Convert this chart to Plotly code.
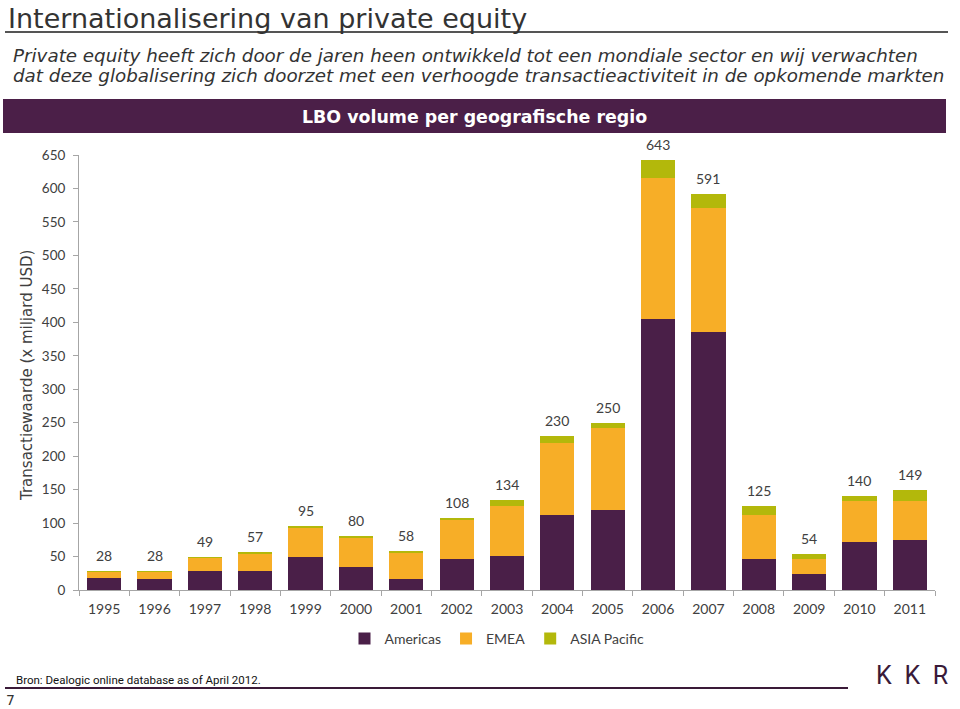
import plotly.graph_objects as go

years = [str(y) for y in range(1995, 2012)]
americas = [18, 17, 28, 29, 50, 35, 16, 47, 51, 112, 119, 405, 386, 46, 24, 72, 74]
emea = [9, 10, 20, 26, 43, 43, 39, 57, 75, 108, 123, 211, 185, 66, 22, 61, 59]
asia = [1, 1, 1, 2, 2, 2, 3, 4, 8, 10, 8, 27, 20, 13, 8, 7, 16]
totals = [28, 28, 49, 57, 95, 80, 58, 108, 134, 230, 250, 643, 591, 125, 54, 140, 149]

W, H = 960, 709
ML, MR, MT, MB = 79, 25, 155, 119
PW, PH = W - ML - MR, H - MT - MB


def px(x):
    return (x - ML) / PW


def py(y):
    return (H - MB - y) / PH


C_AM = "#4A1F48"
C_EM = "#F7AE27"
C_AS = "#B3B80B"
TXT = "#404040"
BODY = "Lato, 'Open Sans', sans-serif"
VERD = "'DejaVu Sans', Verdana, sans-serif"

fig = go.Figure()
for name, vals, col in [("Americas", americas, C_AM), ("EMEA", emea, C_EM), ("ASIA Pacific", asia, C_AS)]:
    fig.add_trace(go.Bar(x=years, y=vals, name=name, marker=dict(color=col, line=dict(width=0))))

annotations = []
for i, t in enumerate(totals):
    annotations.append(dict(x=i, y=t, xref="x", yref="y", text=str(t), showarrow=False,
                            yanchor="bottom", yshift=5, font=dict(family=BODY, size=14, color=TXT)))

annotations += [
    dict(x=px(6), y=py(1), xref="paper", yref="paper", xanchor="left", yanchor="top",
         text="Internationalisering van private equity", showarrow=False,
         font=dict(family=VERD, size=27, color="#333333")),
    dict(x=px(11), y=py(55), xref="paper", yref="paper", xanchor="left", yanchor="middle",
         text="<i>Private equity heeft zich door de jaren heen ontwikkeld tot een mondiale sector en wij verwachten</i>",
         showarrow=False, font=dict(family=VERD, size=18.3, color="#333333")),
    dict(x=px(11), y=py(76), xref="paper", yref="paper", xanchor="left", yanchor="middle",
         text="<i>dat deze globalisering zich doorzet met een verhoogde transactieactiviteit in de opkomende markten</i>",
         showarrow=False, font=dict(family=VERD, size=18.3, color="#333333")),
    dict(x=px(474), y=py(117), xref="paper", yref="paper", xanchor="center", yanchor="middle",
         text="<b>LBO volume per geografische regio</b>", showarrow=False,
         font=dict(family=VERD, size=17.4, color="white")),
    dict(x=px(27), y=py(376), xref="paper", yref="paper", xanchor="center", yanchor="middle",
         text="Transactiewaarde (x miljard USD)", textangle=-90, showarrow=False,
         font=dict(family=VERD, size=15, color=TXT)),
    dict(x=px(14), y=py(680), xref="paper", yref="paper", xanchor="left", yanchor="middle",
         text="Bron: Dealogic online database as of April 2012.", showarrow=False,
         font=dict(family="Roboto", size=11.5, color="#111111")),
    dict(x=px(950), y=py(675), xref="paper", yref="paper", xanchor="right", yanchor="middle",
         text="K\u2002K\u2002R", showarrow=False,
         font=dict(family="Roboto", size=25, color="#3A1A38", weight=400)),
    dict(x=px(4), y=py(700), xref="paper", yref="paper", xanchor="left", yanchor="middle",
         text="7", showarrow=False, font=dict(family=VERD, size=14, color="#333333")),
]

shapes = [
    dict(type="line", xref="paper", yref="paper", x0=px(5), x1=px(948), y0=py(32), y1=py(32),
         line=dict(color="#555555", width=2)),
    dict(type="rect", xref="paper", yref="paper", x0=px(3), x1=px(946), y0=py(133), y1=py(99),
         fillcolor="#4B1F48", line=dict(width=0), layer="below"),
    dict(type="line", xref="paper", yref="paper", x0=px(5), x1=px(848), y0=py(688), y1=py(688),
         line=dict(color="#3A1A38", width=2)),
]

fig.update_layout(
    width=W, height=H,
    margin=dict(l=ML, r=MR, t=MT, b=MB, pad=0),
    barmode="stack", bargap=0.32,
    paper_bgcolor="white", plot_bgcolor="white",
    font=dict(family=BODY, size=14, color=TXT),
    showlegend=True,
    legend=dict(orientation="h", x=px(497), y=py(639), xanchor="center", yanchor="middle",
                font=dict(family=BODY, size=14, color=TXT), itemwidth=30, traceorder="normal"),
    annotations=annotations, shapes=shapes,
    xaxis=dict(type="category", range=[-0.5, 16.5], showline=True, linecolor="#A6A6A6", linewidth=1,
               ticks="outside", tickson="boundaries", ticklen=5, tickcolor="#A6A6A6",
               showgrid=False, tickfont=dict(family=BODY, size=14, color=TXT), ticklabelstandoff=6),
    yaxis=dict(range=[0, 650], dtick=50, tick0=0, showline=True, linecolor="#A6A6A6", linewidth=1,
               ticks="outside", ticklen=5, tickcolor="#A6A6A6", showgrid=False, zeroline=False,
               tickfont=dict(family=BODY, size=13.5, color=TXT), ticklabelstandoff=5),
)

fig.write_html("out.html")
